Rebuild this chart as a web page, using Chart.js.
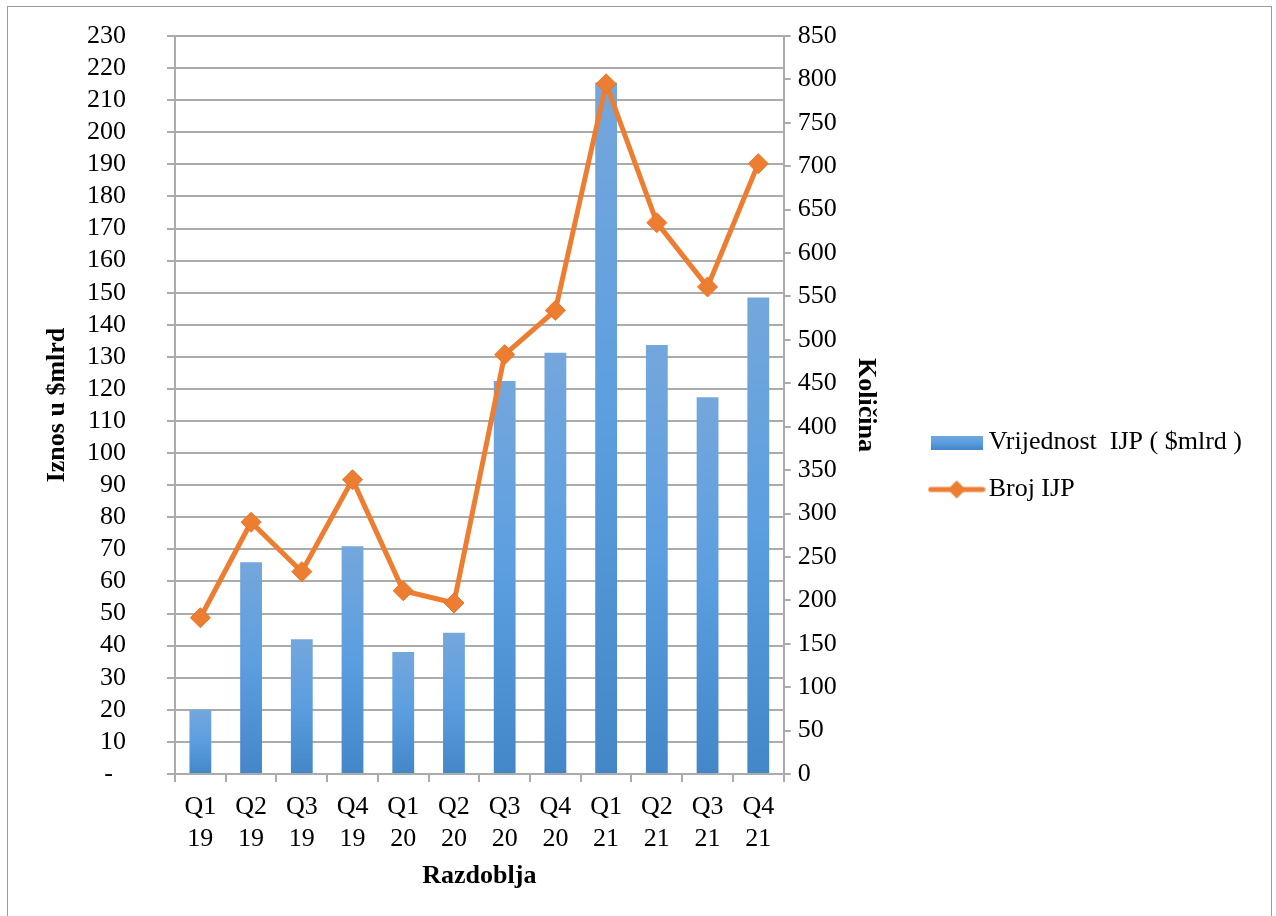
<!DOCTYPE html>
<html>
<head>
<meta charset="utf-8">
<script src="https://cdn.jsdelivr.net/npm/chart.js@4.4.1/dist/chart.umd.min.js"></script>
<style>
  html, body { margin: 0; padding: 0; background: #fff; overflow: hidden; }
  #frame { position: absolute; left: 7px; top: 6px; width: 1263px; height: 1000px; border: 1px solid #9a9a9a; }
  #chart { position: absolute; left: 0; top: 0; }
</style>
</head>
<body>
<div id="frame"></div>
<canvas id="chart" width="1276" height="916"></canvas>
<script>
// quarters + years make the two-line category labels
const quarters = ["Q1", "Q2", "Q3", "Q4", "Q1", "Q2", "Q3", "Q4", "Q1", "Q2", "Q3", "Q4"];
const years = ["19", "19", "19", "19", "20", "20", "20", "20", "21", "21", "21", "21"];

// Vrijednost IJP ($mlrd) - left axis
const valueBn = [20, 66, 42, 71, 38, 44, 122.5, 131.3, 215.5, 133.7, 117.4, 148.5];
// Broj IJP - right axis
const countIpo = [180, 290, 233, 339, 211, 197, 483, 534, 795, 635, 561, 703];

const leftMax = 230, leftStep = 10;
const rightMax = 850, rightStep = 50;

const serif = "'Liberation Serif', 'Times New Roman', serif";
const gridGray = "#ababab";
const orange = "#ed7d31";

Chart.defaults.font.family = serif;
Chart.defaults.font.size = 26;
Chart.defaults.color = "#000";

function barGradient(g) {
  g.addColorStop(0, "#74a7dc");
  g.addColorStop(0.5, "#5b9ee0");
  g.addColorStop(1, "#4487c8");
  return g;
}

// legend swatches
const barSwatch = document.createElement("canvas");
barSwatch.width = 52; barSwatch.height = 14;
(() => {
  const c = barSwatch.getContext("2d");
  c.fillStyle = barGradient(c.createLinearGradient(0, 0, 0, 14));
  c.fillRect(0, 0, 52, 14);
})();

const lineSwatch = document.createElement("canvas");
lineSwatch.width = 58; lineSwatch.height = 22;
(() => {
  const c = lineSwatch.getContext("2d");
  c.strokeStyle = orange; c.lineWidth = 5; c.lineCap = "round";
  c.beginPath(); c.moveTo(3, 11); c.lineTo(55, 11); c.stroke();
  c.fillStyle = orange;
  c.beginPath(); c.moveTo(29, 2); c.lineTo(38, 11); c.lineTo(29, 20); c.lineTo(20, 11); c.closePath(); c.fill();
})();

const ctx = document.getElementById("chart").getContext("2d");

new Chart(ctx, {
  data: {
    labels: quarters.map((q, i) => [q, years[i]]),
    datasets: [
      {
        type: "line",
        label: "Broj IJP",
        data: countIpo,
        yAxisID: "y1",
        order: 0,
        borderColor: orange,
        backgroundColor: orange,
        borderWidth: 5,
        tension: 0,
        pointStyle: "rectRot",
        pointRadius: 10,
        pointBorderWidth: 1,
        pointBackgroundColor: orange,
        pointBorderColor: "#e87628",
      },
      {
        type: "bar",
        label: "Vrijednost  IJP ( $mlrd )",
        data: valueBn,
        yAxisID: "y",
        order: 1,
        categoryPercentage: 1,
        barPercentage: 0.43,
        backgroundColor: (c) => {
          const chart = c.chart;
          if (!chart.chartArea || c.type !== "data") return "#5b9bd5";
          const y = chart.scales.y;
          const top = y.getPixelForValue(c.parsed.y);
          const bottom = y.getPixelForValue(0);
          return barGradient(chart.ctx.createLinearGradient(0, top, 0, bottom));
        },
      },
    ],
  },
  options: {
    responsive: false,
    animation: false,
    devicePixelRatio: 1,
    layout: { padding: { left: 30, top: 36, right: 24, bottom: 20 } },
    plugins: {
      tooltip: { enabled: false },
      legend: {
        position: "right",
        reverse: true,
        maxWidth: 337,
        labels: {
          usePointStyle: true,
          pointStyleWidth: 38,
          padding: 21,
          font: { size: 26 },
          color: "#000",
          generateLabels: (chart) => {
            const items = Chart.defaults.plugins.legend.labels.generateLabels(chart);
            items.forEach((it) => {
              it.pointStyle = it.datasetIndex === 1 ? barSwatch : lineSwatch;
            });
            return items;
          },
        },
      },
    },
    scales: {
      x: {
        offset: true,
        grid: { offset: true, drawOnChartArea: false, tickLength: 8, color: gridGray, lineWidth: 2 },
        border: { color: gridGray, width: 2 },
        ticks: { padding: 9, font: { size: 26, lineHeight: 1.24 } },
        title: {
          display: true,
          text: "Razdoblja",
          font: { size: 26, weight: "bold" },
          padding: { top: 4, bottom: 4 },
        },
        afterFit: (s) => { s.height = 122; },
      },
      y: {
        position: "left",
        min: 0,
        max: leftMax,
        grid: { color: gridGray, lineWidth: 2, tickLength: 8 },
        border: { color: gridGray, width: 2 },
        ticks: {
          stepSize: leftStep,
          autoSkip: false,
          padding: 41,
          callback: (v) => (v === 0 ? "-  " : v),
        },
        title: {
          display: true,
          text: "Iznos u $mlrd",
          font: { size: 26, weight: "bold" },
          padding: { top: 12, bottom: 0 },
        },
        afterFit: (s) => {
          s.width = 145;
          // label gap is horizontal only, keep it out of the top/bottom padding
          s.paddingTop = 0;
          s.paddingBottom = 0;
        },
      },
      y1: {
        position: "right",
        min: 0,
        max: rightMax,
        grid: { drawOnChartArea: false, color: gridGray, lineWidth: 2, tickLength: 7 },
        border: { color: gridGray, width: 2 },
        ticks: { stepSize: rightStep, autoSkip: false, padding: 7 },
        title: {
          display: true,
          text: "Količina",
          font: { size: 26, weight: "bold" },
          padding: { top: 35, bottom: 0 },
        },
        afterFit: (s) => {
          s.width = 133;
          s.paddingTop = 0;
          s.paddingBottom = 0;
        },
      },
    },
  },
});
</script>
</body>
</html>
